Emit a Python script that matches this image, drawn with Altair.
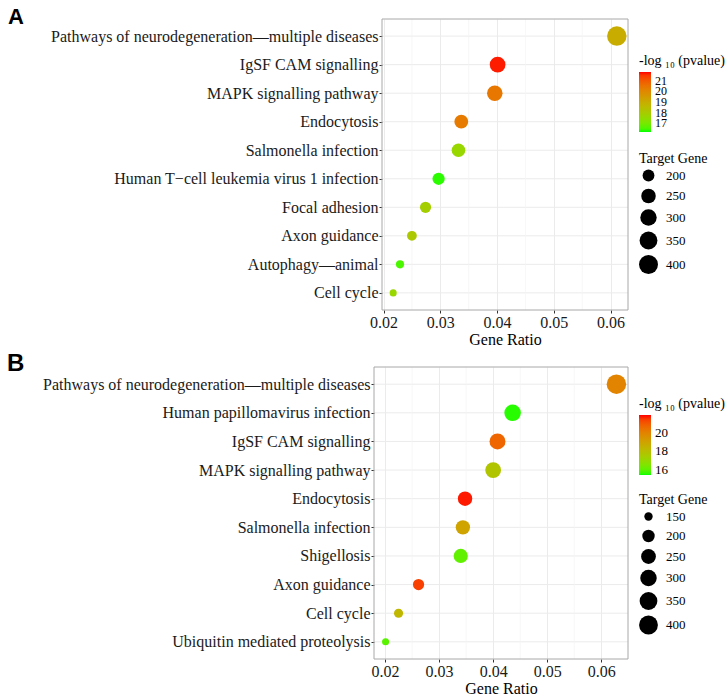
import altair as alt
import pandas as pd

# ---------------- data ----------------
A_terms = [
    "Pathways of neurodegeneration\u2014multiple diseases",
    "IgSF CAM signalling",
    "MAPK signalling pathway",
    "Endocytosis",
    "Salmonella infection",
    "Human T\u2212cell leukemia virus 1 infection",
    "Focal adhesion",
    "Axon guidance",
    "Autophagy\u2014animal",
    "Cell cycle",
]
A_ratio = [0.0611, 0.0401, 0.0396, 0.0337, 0.0332, 0.0297, 0.0274, 0.0250, 0.0229, 0.0217]
A_count = [425, 279, 275, 234, 231, 207, 191, 174, 159, 151]
A_logp = [19.0, 21.7, 20.4, 20.3, 17.6, 16.3, 17.9, 18.1, 16.5, 17.6]

B_terms = [
    "Pathways of neurodegeneration\u2014multiple diseases",
    "Human papillomavirus infection",
    "IgSF CAM signalling",
    "MAPK signalling pathway",
    "Endocytosis",
    "Salmonella infection",
    "Shigellosis",
    "Axon guidance",
    "Cell cycle",
    "Ubiquitin mediated proteolysis",
]
B_ratio = [0.0628, 0.0436, 0.0408, 0.0400, 0.0348, 0.0344, 0.0340, 0.0262, 0.0225, 0.0201]
B_count = [437, 303, 284, 278, 242, 239, 237, 182, 157, 140]
B_logp = [20.0, 15.5, 20.8, 17.8, 21.9, 19.0, 16.0, 21.5, 18.3, 15.9]

x_major = [0.02, 0.03, 0.04, 0.05, 0.06]
x_minor = [0.025, 0.035, 0.045, 0.055]

A_color_ticks = [17, 18, 19, 20, 21]
B_color_ticks = [16, 18, 20]
A_size_ticks = [200, 250, 300, 350, 400]
B_size_ticks = [150, 200, 250, 300, 350, 400]

SERIF = "Liberation Serif"
GRID = "#ebebeb"
BORDER = "#a8a8a8"
VIEW_W = 246  # common right part of the panels; panel B extends further left


def panel(letter, letter_dx, letter_dy, letter_size, terms, ratio, count, logp,
          x_domain, c_domain, c_ticks, c_font, s_domain, s_ticks, shift, height,
          leg_x, c_leg_y, s_leg_y):
    df = pd.DataFrame({"term": terms, "ratio": ratio, "count": count, "logp": logp})
    minor_df = pd.DataFrame({"ratio": x_minor})
    x_scale = alt.Scale(domain=x_domain, range=[-shift, VIEW_W], nice=False, zero=False)
    x_axis = alt.Axis(values=x_major, format=".2f", title="Gene Ratio", grid=True,
                      gridColor=GRID, gridWidth=1, labelPadding=1, titlePadding=1)
    y_scale = alt.Scale(type="point", padding=0.6)
    y_axis = alt.Axis(title=None, grid=False, labelPadding=1, labelLimit=0, offset=shift)

    ygrid = alt.Chart(df).mark_rule(color=GRID, strokeWidth=1).encode(
        y=alt.Y("term:N", sort=terms, scale=y_scale, axis=y_axis),
        x=alt.value(-shift), x2=alt.value(VIEW_W),
    )
    minor = alt.Chart(minor_df).mark_rule(color="#f4f4f4", strokeWidth=0.7).encode(
        x=alt.X("ratio:Q", scale=x_scale, axis=x_axis)
    )
    points = alt.Chart(df).mark_circle(opacity=1).encode(
        x=alt.X("ratio:Q", scale=x_scale, axis=x_axis),
        y=alt.Y("term:N", sort=terms, scale=y_scale, axis=y_axis),
        color=alt.Color("logp:Q",
                        scale=alt.Scale(domain=c_domain, range=["#00ff00", "#ff0000"],
                                        interpolate="lab"),
                        legend=alt.Legend(title="-log \u2081\u2080 (pvalue)", orient="none",
                                          legendX=leg_x, legendY=c_leg_y, direction="vertical",
                                          values=c_ticks, gradientLength=60,
                                          gradientThickness=12, gradientStrokeWidth=0,
                                          labelOverlap=False, titlePadding=4, labelOffset=4,
                                          labelFontSize=c_font)),
        size=alt.Size("count:Q",
                      scale=alt.Scale(type="log", domain=s_domain, range=[50, 380]),
                      legend=alt.Legend(title="Target Gene", orient="none",
                                        legendX=leg_x, legendY=s_leg_y, values=s_ticks,
                                        symbolFillColor="black", symbolStrokeColor="black",
                                        symbolStrokeWidth=0, symbolOpacity=1,
                                        symbolType="circle", labelFontSize=13,
                                        titlePadding=3, labelOffset=8, rowPadding=5.5)),
    )
    frame = alt.Chart(pd.DataFrame({"t": [letter]})).mark_rect(
        filled=False, stroke=BORDER, strokeWidth=1
    ).encode(x=alt.value(-shift), x2=alt.value(VIEW_W), y=alt.value(0), y2=alt.value(height))
    letter_layer = alt.Chart(pd.DataFrame({"t": [letter]})).mark_text(
        align="left", baseline="top", font="Liberation Sans", fontWeight="bold",
        fontSize=letter_size, color="black"
    ).encode(x=alt.value(letter_dx), y=alt.value(letter_dy), text="t:N")

    return alt.layer(ygrid, minor, points, frame, letter_layer).properties(
        width=VIEW_W, height=height,
        view=alt.ViewBackground(stroke="transparent"),
    )


A = panel("A", -374, -12, 22, A_terms, A_ratio, A_count, A_logp,
          [0.01973, 0.06307], [16.2, 21.8], A_color_ticks, 12, [151, 425], A_size_ticks,
          0, 291, 257, 35, 133)
B = panel("B", -375, -15, 24, B_terms, B_ratio, B_count, B_logp,
          [0.01796, 0.06494], [15.4, 22.0], B_color_ticks, 13, [140, 437], B_size_ticks,
          8, 292, 257, 30, 126)

chart = alt.vconcat(A, B, spacing=3).resolve_scale(
    color="independent", size="independent", x="independent", y="independent"
).properties(
    padding={"left": 6, "top": 5, "right": 0, "bottom": 0}
).configure_view(
    stroke="transparent"
).configure_axis(
    labelFont=SERIF, titleFont=SERIF, labelFontSize=16, titleFontSize=16,
    labelColor="#1a1a1a", titleColor="#000000", titleFontWeight="normal",
    tickColor="#333333", tickSize=3, domain=False
).configure_legend(
    titleFont=SERIF, labelFont=SERIF, titleFontSize=14, titleFontWeight="normal",
    titleColor="#000000", labelColor="#000000"
)

chart.save("out.html", embed_options={"renderer": "svg", "actions": False})
